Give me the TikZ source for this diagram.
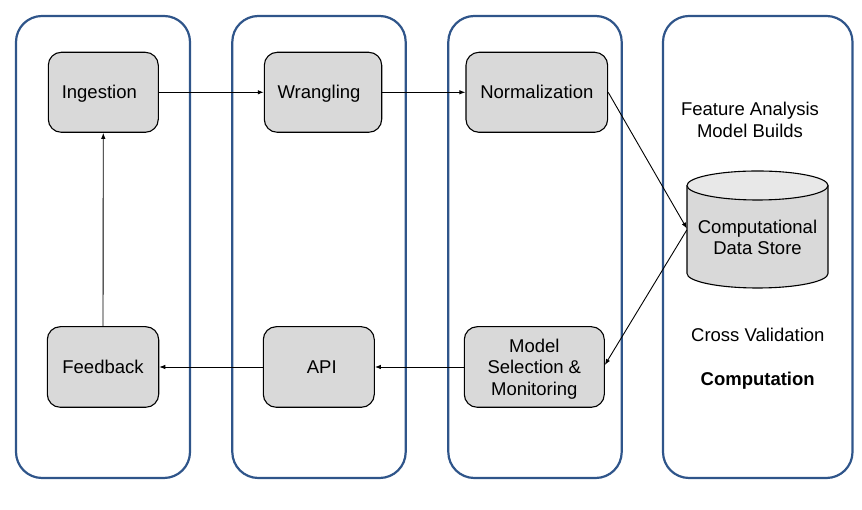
\documentclass[tikz,border=0pt]{standalone}
\usepackage{fontspec}
\setmainfont{Liberation Sans}
\usetikzlibrary{arrows.meta,calc}
\definecolor{colblue}{RGB}{47,85,138}
\definecolor{boxgray}{RGB}{217,217,217}
\definecolor{topgray}{RGB}{232,232,232}
\tikzset{
  column/.style={draw=colblue,line width=2.2pt,rounded corners=26pt},
  stagebox/.style={draw=black,line width=1.1pt,fill=boxgray,rounded corners=13pt,
    align=center,inner sep=0pt,text depth=0pt,font=\fontsize{18.5}{21.5}\selectfont},
  label/.style={align=center,inner sep=0pt,font=\fontsize{18.5}{21.5}\selectfont},
  flow/.style={draw=black,line width=0.9pt,-{Latex[length=6pt,width=4.5pt]}},
  cylline/.style={draw=black,line width=1.1pt}
}
\begin{document}
\begin{tikzpicture}[x=1pt,y=1pt]
\useasboundingbox (0,0) rectangle (862,510);
% columns
\draw[column] (16,32) rectangle (190,494);
\draw[column] (232.3,32) rectangle (405.7,494);
\draw[column] (448.3,32) rectangle (621.7,494);
\draw[column] (663,32) rectangle (852.5,494);
% stage boxes
\node[stagebox,minimum width=110pt,minimum height=80pt] (ing) at (103.3,417.7) {\kern-4pt Ingestion\kern4pt};
\node[stagebox,minimum width=117.4pt,minimum height=80pt] (wra) at (323,417.7) {\kern-4pt Wrangling\kern4pt};
\node[stagebox,minimum width=141.7pt,minimum height=80pt] (nor) at (536.8,417.7) {Normalization};
\node[stagebox,minimum width=111.4pt,minimum height=80.6pt] (fee) at (103,143) {Feedback};
\node[stagebox,minimum width=111pt,minimum height=80.6pt] (api) at (318.8,143) {\kern3pt API\kern-3pt};
\node[stagebox,minimum width=140pt,minimum height=80.6pt] (mod) at (534.3,143) {Model\\Selection \&\\Monitoring};
% cylinder
\fill[boxgray] (687,236.5) rectangle (828,324.5);
\fill[boxgray] (757.5,236.5) ellipse[x radius=70.5,y radius=14.5];
\draw[cylline] (687,324.5) -- (687,236.5) arc[start angle=180,end angle=360,x radius=70.5,y radius=14.5] -- (828,324.5);
\filldraw[cylline,fill=topgray] (757.5,324.5) ellipse[x radius=70.5,y radius=14.5];
\node[label,minimum width=141pt] (cds) at (757.5,272.5) {Computational\\Data Store};
% texts in computation column
\node[label] (feat) at (750,390) {Feature Analysis\\Model Builds};
\node[label] (cross) at (757.8,175) {Cross Validation};
\node[label,font=\fontsize{18.5}{21.5}\selectfont\bfseries] (comp) at (757.7,129) {Computation};
% connectors
\draw[flow] (ing.east) -- (wra.west);
\draw[flow] (wra.east) -- (nor.west);
\draw[flow] (nor.east) -- ([yshift=9pt]cds.west);
\draw[flow] ([yshift=7.5pt]cds.west) -- ([yshift=2pt]mod.east);
\draw[flow] (mod.west) -- (api.east);
\draw[flow] (api.west) -- (fee.east);
\draw[flow] (fee.north) -- (ing.south);
\end{tikzpicture}
\end{document}
